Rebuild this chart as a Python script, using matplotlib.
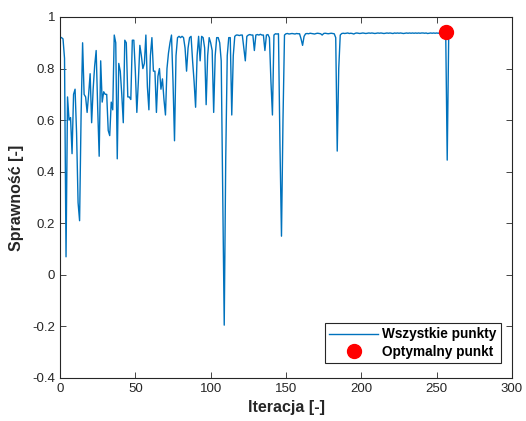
import matplotlib
matplotlib.use("Agg")
import matplotlib.pyplot as plt

# Efficiency values for iterations 1..258
sprawnosc = [
    0.92, 0.915, 0.84, 0.07, 0.69, 0.60, 0.61, 0.47, 0.70, 0.72,
    0.55, 0.28, 0.21, 0.62, 0.90, 0.70, 0.69, 0.63, 0.70, 0.78,
    0.59, 0.72, 0.81, 0.87, 0.65, 0.46, 0.83, 0.67, 0.71, 0.70,
    0.70, 0.56, 0.54, 0.67, 0.64, 0.93, 0.90, 0.45, 0.82, 0.79,
    0.70, 0.59, 0.91, 0.90, 0.69, 0.69, 0.68, 0.91, 0.91, 0.79,
    0.63, 0.75, 0.89, 0.85, 0.80, 0.82, 0.93, 0.73, 0.64, 0.85,
    0.92, 0.79, 0.79, 0.63, 0.77, 0.80, 0.72, 0.76, 0.68, 0.62,
    0.80, 0.86, 0.90, 0.93, 0.75, 0.52, 0.85, 0.92, 0.925, 0.92,
    0.925, 0.92, 0.88, 0.79, 0.88, 0.92, 0.925, 0.83, 0.75, 0.65,
    0.85, 0.925, 0.83, 0.925, 0.92, 0.88, 0.66, 0.85, 0.92, 0.90,
    0.87, 0.63, 0.85, 0.92, 0.92, 0.90, 0.83, 0.30, -0.195, 0.45,
    0.85, 0.92, 0.92, 0.62, 0.85, 0.925, 0.93, 0.93, 0.928, 0.93,
    0.93, 0.88, 0.83, 0.925, 0.93, 0.932, 0.93, 0.93, 0.87, 0.93,
    0.932, 0.93, 0.933, 0.93, 0.93, 0.87, 0.93, 0.932, 0.92, 0.75,
    0.62, 0.93, 0.935, 0.934, 0.935, 0.50, 0.15, 0.60, 0.93, 0.935,
    0.936, 0.934, 0.935, 0.936, 0.935, 0.934, 0.936, 0.935, 0.935, 0.915,
    0.89, 0.925, 0.935, 0.936, 0.935, 0.937, 0.936, 0.935, 0.934, 0.936,
    0.937, 0.936, 0.935, 0.93, 0.936, 0.937, 0.936, 0.935, 0.936, 0.937,
    0.936, 0.935, 0.92, 0.48, 0.80, 0.93, 0.936, 0.937, 0.936, 0.937,
    0.938, 0.936, 0.937, 0.936, 0.934, 0.937, 0.938, 0.937, 0.936, 0.937,
    0.938, 0.937, 0.936, 0.937, 0.938, 0.937, 0.938, 0.937, 0.936, 0.937,
    0.938, 0.937, 0.938, 0.937, 0.936, 0.937, 0.938, 0.937, 0.938, 0.937,
    0.936, 0.938, 0.937, 0.938, 0.937, 0.938, 0.937, 0.936, 0.937, 0.938,
    0.937, 0.938, 0.937, 0.938, 0.937, 0.938, 0.937, 0.938, 0.937, 0.938,
    0.938, 0.937, 0.938, 0.936, 0.937, 0.938, 0.937, 0.938, 0.937, 0.938,
    0.937, 0.938, 0.937, 0.938, 0.938, 0.94, 0.445, 0.93,
]
iteracje = list(range(1, len(sprawnosc) + 1))

opt_x = [256]
opt_y = [0.94]

x_ticks = [0, 50, 100, 150, 200, 250, 300]
y_ticks = [-0.4, -0.2, 0, 0.2, 0.4, 0.6, 0.8, 1.0]
y_tick_labels = ["-0.4", "-0.2", "0", "0.2", "0.4", "0.6", "0.8", "1"]

plt.rcParams['font.family'] = ['Liberation Sans', 'DejaVu Sans']

fig = plt.figure(figsize=(5.26, 4.21), dpi=100)
ax = fig.add_axes([60/526, 1 - 378/421, 452/526, 361/421])

ax.plot(iteracje, sprawnosc, color='#0072BD', linewidth=1.0, label='Wszystkie punkty')
ax.plot(opt_x, opt_y, 'o', color='red', markersize=10, label='Optymalny punkt',
        zorder=5)

ax.set_xlim(0, 300)
ax.set_ylim(-0.4, 1.0)
ax.set_xticks(x_ticks)
ax.set_yticks(y_ticks)
ax.set_yticklabels(y_tick_labels)

spine_col = '#262626'
for s in ax.spines.values():
    s.set_color(spine_col)
    s.set_linewidth(0.8)
ax.tick_params(direction='in', top=True, right=True, length=4, width=0.6,
               colors=spine_col, labelsize=9.5)

ax.set_xlabel('Iteracja [-]', fontsize=11.5, fontweight='bold', color=spine_col, labelpad=4)
ax.set_ylabel('Sprawność [-]', fontsize=11.5, fontweight='bold', color=spine_col, labelpad=6)

leg = ax.legend(loc='lower right', bbox_to_anchor=(0.975, 0.042), fancybox=False,
                framealpha=1, edgecolor=spine_col, prop={'weight': 'bold', 'size': 9.8},
                borderpad=0.3, handlelength=3.6, handletextpad=0.3,
                labelspacing=0.25, borderaxespad=0)
leg.get_frame().set_linewidth(0.8)

fig.savefig('out.png', dpi=100)
